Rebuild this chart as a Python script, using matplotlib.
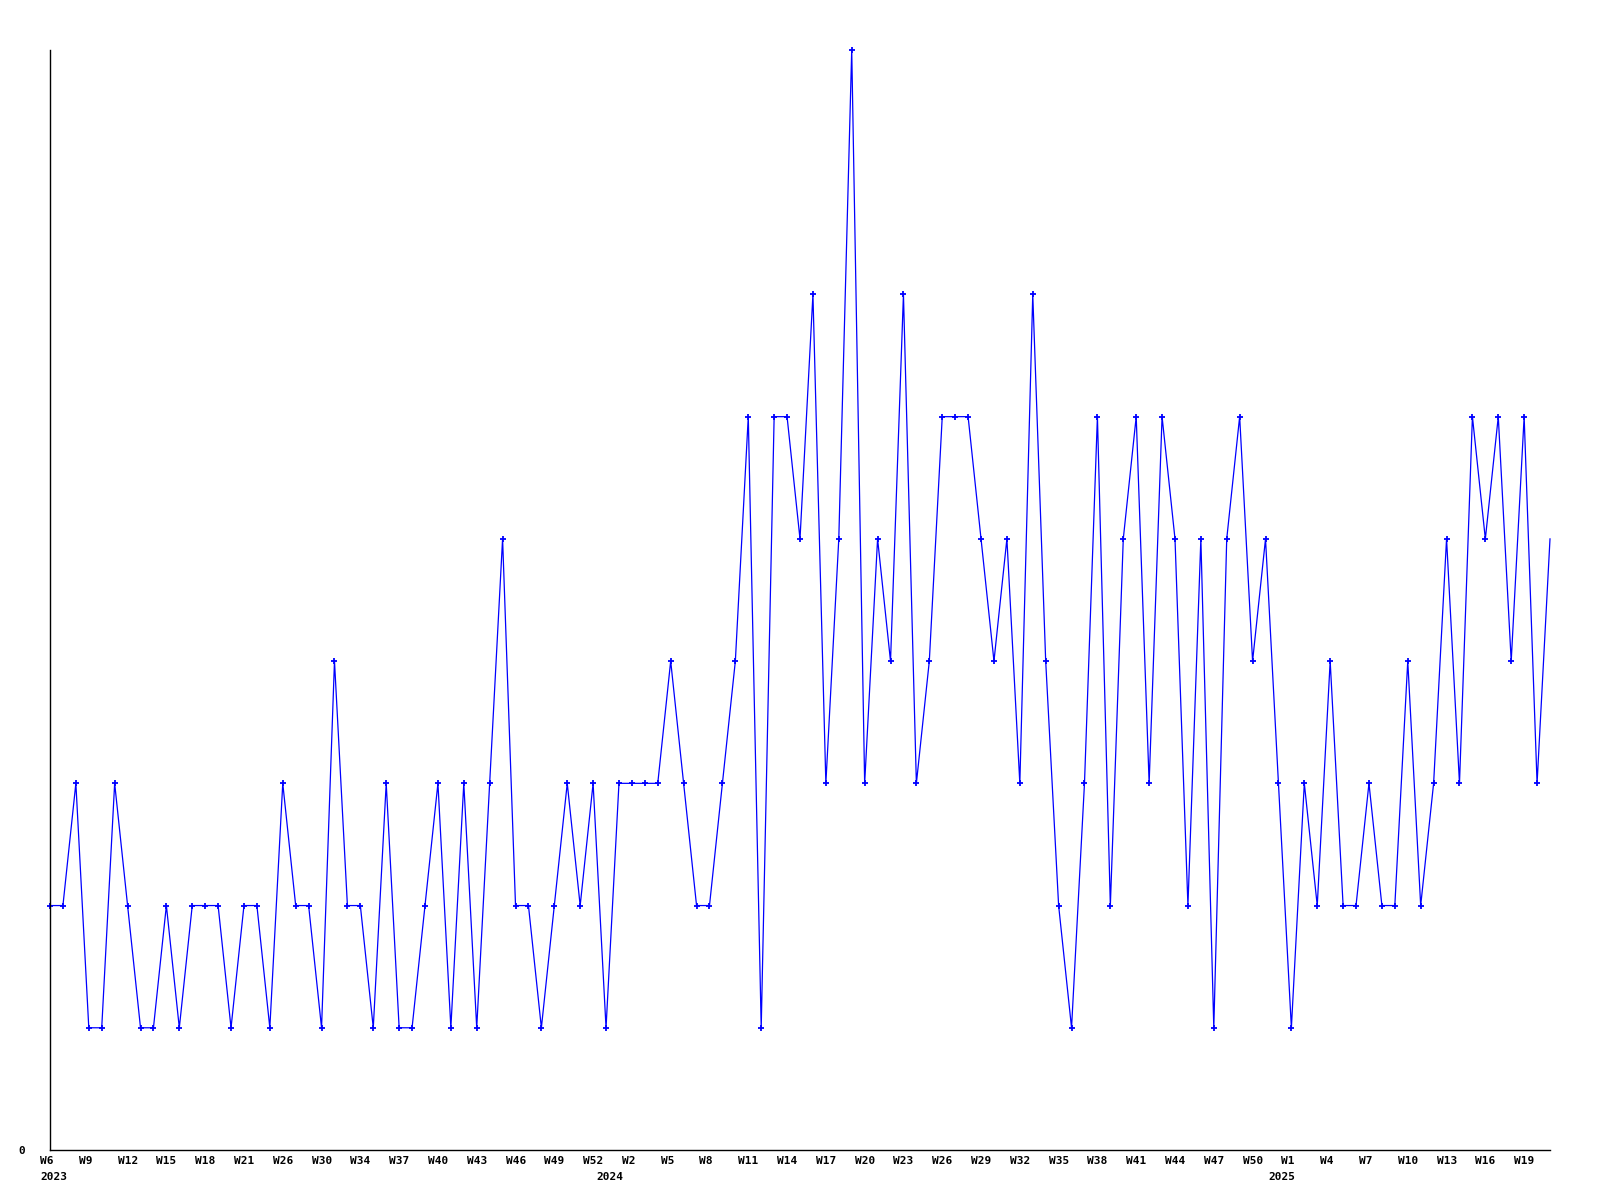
import matplotlib
matplotlib.use("Agg")
import matplotlib.pyplot as plt
from matplotlib.transforms import ScaledTranslation

# weekly counts, first point is W6 2023
values = [2, 2, 3, 1, 1, 3, 2, 1, 1, 2, 1, 2, 2, 2, 1, 2, 2, 1, 3, 2,
          2, 1, 4, 2, 2, 1, 3, 1, 1, 2, 3, 1, 3, 1, 3, 5, 2, 2, 1, 2,
          3, 2, 3, 1, 3, 3, 3, 3, 4, 3, 2, 2, 3, 4, 6, 1, 6, 6, 5, 7,
          3, 5, 9, 3, 5, 4, 7, 3, 4, 6, 6, 6, 5, 4, 5, 3, 7, 4, 2, 1,
          3, 6, 2, 5, 6, 3, 6, 5, 2, 5, 1, 5, 6, 4, 5, 3, 1, 3, 2, 4,
          2, 2, 3, 2, 2, 4, 2, 3, 5, 3, 6, 5, 6, 4, 6, 3, 5]

week_labels = ["W6", "W9", "W12", "W15", "W18", "W21", "W26", "W30", "W34",
               "W37", "W40", "W43", "W46", "W49", "W52", "W2", "W5", "W8",
               "W11", "W14", "W17", "W20", "W23", "W26", "W29", "W32", "W35",
               "W38", "W41", "W44", "W47", "W50", "W1", "W4", "W7", "W10",
               "W13", "W16", "W19"]
week_ticks = list(range(0, 3 * len(week_labels), 3))

years = ["2023", "2024", "2025"]
year_pos = [0, 43, 95]

font = {"family": "DejaVu Sans Mono", "weight": "bold", "size": 8}

fig = plt.figure(figsize=(16, 12), dpi=100)
ax = fig.add_axes([50 / 1600, 50 / 1200, 1500 / 1600, 1100 / 1200])

x = list(range(len(values)))
ax.plot(x, values, color="#0000ff", linewidth=0.9, marker="+",
        markersize=4, markeredgewidth=1.3, clip_on=False,
        markevery=list(range(len(values) - 1)))

ax.set_xlim(0, len(values) - 1)
ax.set_ylim(0, 9)

for side in ["top", "right"]:
    ax.spines[side].set_visible(False)
for side in ["left", "bottom"]:
    ax.spines[side].set_linewidth(1.0)
    ax.spines[side].set_color("black")

ax.set_yticks([0])
ax.set_yticklabels(["0"], fontdict=font)
ax.tick_params(axis="y", length=0, pad=18)

ax.set_xticks(week_ticks)
ax.set_xticklabels(week_labels, fontdict=font)
ax.tick_params(axis="x", length=0, pad=4)
shift = ScaledTranslation(-10 / 100, 0, fig.dpi_scale_trans)
for lbl in ax.get_xticklabels():
    lbl.set_horizontalalignment("left")
    lbl.set_transform(lbl.get_transform() + shift)

for yr, pos in zip(years, year_pos):
    ax.annotate(yr, xy=(pos, 0), xycoords=("data", "axes fraction"),
                xytext=(-10, -22), textcoords="offset pixels",
                ha="left", va="top", **font)

fig.savefig("out.png", dpi=100, facecolor="white")
